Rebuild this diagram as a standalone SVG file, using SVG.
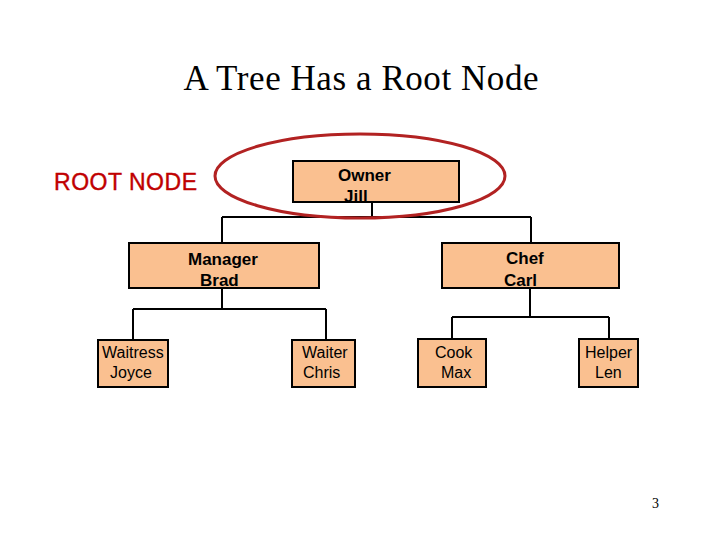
<svg xmlns="http://www.w3.org/2000/svg" width="720" height="540" viewBox="0 0 720 540">
<style>
.box{fill:#FAC090;stroke:#000;stroke-width:2}
.big{font-family:"Liberation Sans",Arial,sans-serif;font-size:17px;font-weight:bold;fill:#000}
.sm{font-family:"Liberation Sans",Arial,sans-serif;font-size:16px;fill:#000}
.ln{stroke:#000;stroke-width:2;fill:none}
</style>
<rect width="720" height="540" fill="#fff"/>
<text x="361" y="90" text-anchor="middle" font-family="'Liberation Serif','Times New Roman',serif" font-size="35" textLength="355" fill="#000">A Tree Has a Root Node</text>
<text id="rootlabel" x="54" y="190" font-family="'Liberation Sans',Arial,sans-serif" font-size="23" fill="#C00000" stroke="#C00000" stroke-width="0.4" textLength="143">ROOT NODE</text>
<g id="connectors">
<path class="ln" d="M372 202V217M222 217H531M222 217V243M531 217V243"/>
<path class="ln" d="M222 288V309M133 309H326M133 309V340M326 309V340"/>
<path class="ln" d="M530 288V317M452 317H609M452 317V339M609 317V339"/>
</g>
<g id="owner">
<rect class="box" x="293" y="161" width="166" height="41"/>
<text class="big" x="338" y="181">Owner</text>
<text class="big" x="344" y="202">Jill</text>
</g>
<g id="manager">
<rect class="box" x="129" y="243" width="190" height="45"/>
<text class="big" x="188" y="265">Manager</text>
<text class="big" x="200" y="286">Brad</text>
</g>
<g id="chef">
<rect class="box" x="442" y="243" width="177" height="45"/>
<text class="big" x="506" y="264">Chef</text>
<text class="big" x="504" y="286">Carl</text>
</g>
<g id="waitress">
<rect class="box" x="98" y="340" width="70" height="47"/>
<text class="sm" x="102" y="358">Waitress</text>
<text class="sm" x="110" y="378">Joyce</text>
</g>
<g id="waiter">
<rect class="box" x="292" y="340" width="63" height="47"/>
<text class="sm" x="302" y="358">Waiter</text>
<text class="sm" x="303" y="378">Chris</text>
</g>
<g id="cook">
<rect class="box" x="418" y="339" width="68" height="48"/>
<text class="sm" x="435" y="358">Cook</text>
<text class="sm" x="441" y="378">Max</text>
</g>
<g id="helper">
<rect class="box" x="579" y="339" width="59" height="48"/>
<text class="sm" x="585" y="358">Helper</text>
<text class="sm" x="595" y="378">Len</text>
</g>
<ellipse id="highlight" cx="360" cy="176" rx="145" ry="42" fill="none" stroke="#B22222" stroke-width="3"/>
<text x="652" y="508" font-family="'Liberation Serif','Times New Roman',serif" font-size="14" fill="#000">3</text>
</svg>
